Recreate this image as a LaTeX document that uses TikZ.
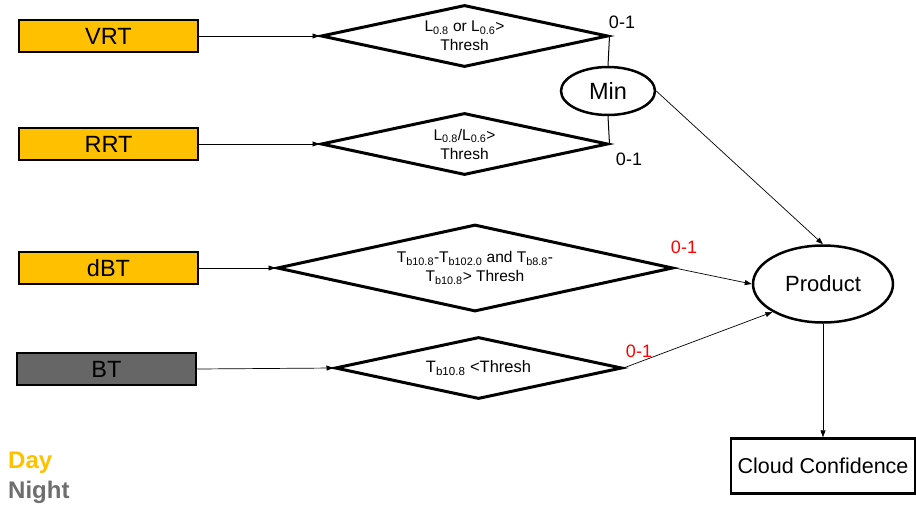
\documentclass[tikz,border=0pt]{standalone}
\usepackage{fontspec}
\setmainfont{Liberation Sans}
\usetikzlibrary{shapes.geometric,arrows.meta}
\definecolor{dayorange}{HTML}{FFC000}
\definecolor{nightgray}{HTML}{666666}
\definecolor{nighttext}{HTML}{6E6E6E}
\definecolor{valred}{HTML}{FF0000}
\begin{document}
\begin{tikzpicture}[x=1pt,y=-1pt,
 inbox/.style={draw,line width=2.5pt,minimum width=179pt,minimum height=32pt,inner sep=0pt,font=\fontsize{23.5}{26}\selectfont},
 test/.style={draw,diamond,line width=3pt,inner sep=0pt,align=center,font=\fontsize{15.5}{19}\selectfont},
 oval/.style={draw,ellipse,line width=2.5pt,inner sep=0pt,font=\fontsize{22}{24}\selectfont},
 conn/.style={line width=0.7pt,-{Triangle[length=7pt,width=5pt]}},
 link/.style={line width=1pt},
 val/.style={font=\fontsize{18}{20}\selectfont,inner sep=0pt},
 legend/.style={font=\fontsize{24}{26}\selectfont\bfseries,inner sep=0pt,anchor=west}]
\useasboundingbox (0,0) rectangle (916,509);

% inputs
\node[inbox,fill=dayorange] (vrt) at (108.5,36) {VRT};
\node[inbox,fill=dayorange] (rrt) at (108.5,144) {RRT};
\node[inbox,fill=dayorange] (dbt) at (108.5,268) {dBT};
\node[inbox,fill=nightgray] (bt) at (106.5,369) {BT};

% tests
\node[test,shape aspect=4.6,minimum width=287pt,minimum height=62pt] (d1) at (464.5,36)
  {L\textsubscript{0.8} or L\textsubscript{0.6}>\\Thresh};
\node[test,shape aspect=4.6,minimum width=287pt,minimum height=62pt] (d2) at (464.5,144)
  {L\textsubscript{0.8}/L\textsubscript{0.6}>\\Thresh};
\node[test,shape aspect=4.55,minimum width=396pt,minimum height=87pt] (d3) at (475,268)
  {T\textsubscript{b10.8}-T\textsubscript{b102.0} and T\textsubscript{b8.8}-\\T\textsubscript{b10.8}> Thresh};
\node[test,shape aspect=4.6,minimum width=287pt,minimum height=62pt,font=\fontsize{16.5}{19}\selectfont] (d4) at (478.5,368)
  {T\textsubscript{b10.8} <Thresh};

% combiners
\node[oval,minimum width=94pt,minimum height=48pt,font=\fontsize{23.5}{26}\selectfont] (min) at (608,91) {Min};
\node[oval,minimum width=140pt,minimum height=77pt] (prod) at (823,284) {Product};
\node[draw,line width=2.5pt,minimum width=184pt,minimum height=55pt,inner sep=0pt,font=\fontsize{21.5}{24}\selectfont] (cc) at (823,466) {Cloud Confidence};

% connectors
\draw[conn] (vrt.east) -- (d1.west);
\draw[conn] (rrt.east) -- (d2.west);
\draw[conn] (dbt.east) -- (d3.west);
\draw[conn] (bt.east) -- (d4.west);
\draw[link] (d1.east) -- (min.north);
\draw[link] (d2.east) -- (min.south);
\draw[conn] (min.east) -- (prod.north);
\draw[conn] (d3.east) -- (prod.west);
\draw[conn] (d4.east) -- (prod.209);
\draw[conn] (prod.south) -- (cc.north);

% value labels
\node[val] (v1) at (622,22) {0-1};
\node[val] (v2) at (629,159) {0-1};
\node[val,text=valred] (v3) at (684,247) {0-1};
\node[val,text=valred] (v4) at (639,351) {0-1};

% legend
\node[legend,text=dayorange] (day) at (8,463) {Day};
\node[legend,text=nighttext] (night) at (8,492) {Night};
\end{tikzpicture}
\end{document}
